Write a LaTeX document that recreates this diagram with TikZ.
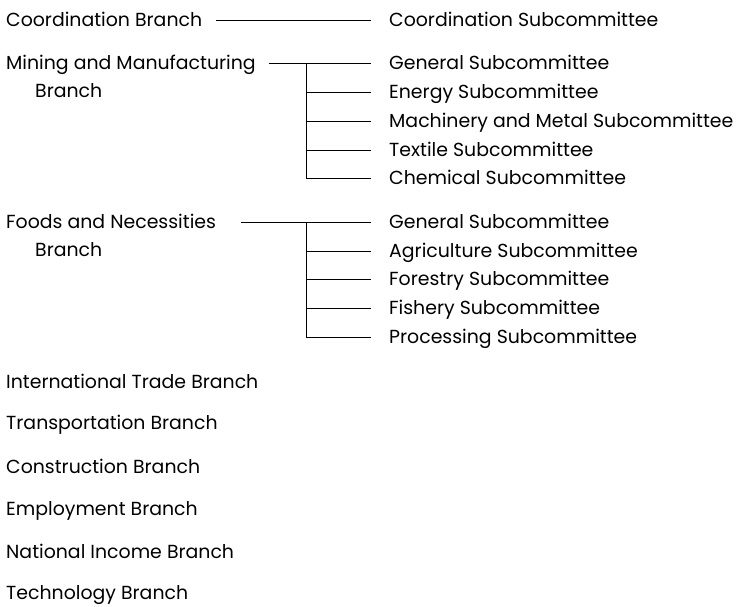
\documentclass[tikz,border=0pt]{standalone}
\usepackage{fontspec}
\setmainfont{Poppins}
\usetikzlibrary{positioning}

\tikzset{
  branch/.style={anchor=west, inner sep=0pt, text height=13pt, text depth=0pt,
    font=\fontsize{18.9}{22}\selectfont},
  sub/.style={branch, inner xsep=18pt},
  link/.style={line width=1pt},
}

\begin{document}
\begin{tikzpicture}[x=1pt, y=-1pt]
  \useasboundingbox (0,0) rectangle (736,606);

  % coordination
  \node[branch] (coord) at (6,20) {Coordination Branch};
  \node[sub] (coordS) at (371,20) {Coordination Subcommittee};
  \draw[link] ([xshift=14pt]coord.east) -- (coordS.west);

  % mining and manufacturing
  \node[branch] (mining) at (6,63) {Mining and Manufacturing};
  \node[branch] (miningB) at (35,91) {Branch};
  \foreach \name/\y/\txt in {mg/63/General, me/92/Energy, mm/121/Machinery and Metal,
      mt/150/Textile, mc/178/Chemical}
    \node[sub] (\name) at (371,\y) {\txt\ Subcommittee};
  \coordinate (mtrunk) at (306,63);
  \draw[link] ([xshift=13pt]mining.east) -- (mg.west);
  \draw[link] (mtrunk) |- (mc.west);
  \foreach \name in {me, mm, mt}
    \draw[link] (mtrunk |- \name.west) -- (\name.west);

  % foods and necessities
  \node[branch] (foods) at (6,222) {Foods and Necessities};
  \node[branch] (foodsB) at (35,250) {Branch};
  \foreach \name/\y/\txt in {fg/222/General, fa/251/Agriculture, ff/279/Forestry,
      fy/308/Fishery, fp/337/Processing}
    \node[sub] (\name) at (371,\y) {\txt\ Subcommittee};
  \coordinate (ftrunk) at (306,222);
  \draw[link] ([xshift=25pt]foods.east) -- (fg.west);
  \draw[link] (ftrunk) |- (fp.west);
  \foreach \name in {fa, ff, fy}
    \draw[link] (ftrunk |- \name.west) -- (\name.west);

  % branches without subcommittees
  \foreach \name/\y/\txt in {trade/382/International Trade, transport/423/Transportation,
      construct/467/Construction, employ/509/Employment, income/552/National Income,
      tech/593/Technology}
    \node[branch] (\name) at (6,\y) {\txt\ Branch};
\end{tikzpicture}
\end{document}
